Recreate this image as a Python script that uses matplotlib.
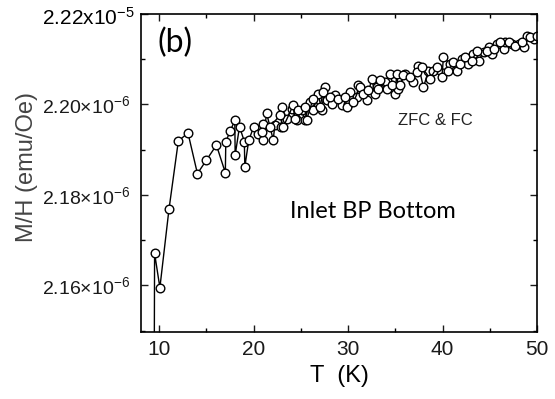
import matplotlib
matplotlib.use("Agg")
import matplotlib.pyplot as plt
from matplotlib.ticker import MultipleLocator

plt.rcParams['font.family'] = ['Liberation Sans', 'DejaVu Sans']
plt.rcParams['mathtext.fontset'] = 'custom'
plt.rcParams['mathtext.rm'] = 'Liberation Sans'
plt.rcParams['mathtext.default'] = 'regular'

# ZFC run: temperature (K) and M/H (x1e-6 emu/Oe)
T_zfc = [9.50, 9.54, 10.10, 11.06, 12.05, 13.07, 14.07, 15.02, 16.08, 17.02,
         17.07, 17.54, 18.02, 18.06, 18.52, 19.03, 19.08, 19.50, 20.03, 20.49,
         21.00, 21.04, 21.38, 22.08, 22.26, 22.95, 22.99, 23.50, 24.03, 24.56,
         25.08, 25.43, 25.96, 26.31, 26.84, 27.20, 27.55, 27.73, 28.26, 28.61,
         29.32, 30.02, 30.20, 30.91, 31.08, 31.97, 32.50, 32.85, 33.03, 33.91,
         34.44, 34.97, 35.15, 35.32, 36.03, 36.91, 37.44, 37.97, 38.50, 39.03,
         39.92, 40.08, 40.79, 41.50, 42.03, 42.73, 43.26, 43.79, 44.32, 44.85,
         45.21, 45.74, 46.44, 46.62, 47.33, 48.03, 48.56, 48.92, 49.62]
MH_zfc = [2.1400, 2.1671, 2.1595, 2.1768, 2.1919, 2.1937, 2.1847, 2.1877, 2.1910, 2.1849,
          2.1918, 2.1941, 2.1965, 2.1888, 2.1951, 2.1918, 2.1862, 2.1921, 2.1951, 2.1935,
          2.1957, 2.1922, 2.1981, 2.1922, 2.1954, 2.1950, 2.1994, 2.1968, 2.1991, 2.1965,
          2.1987, 2.1965, 2.2005, 2.1987, 2.2024, 2.1987, 2.2038, 2.2009, 2.2002, 2.2020,
          2.1998, 2.2002, 2.2027, 2.2016, 2.2042, 2.2009, 2.2057, 2.2024, 2.2038, 2.2049,
          2.2068, 2.2024, 2.2068, 2.2035, 2.2068, 2.2049, 2.2086, 2.2038, 2.2075, 2.2075,
          2.2060, 2.2104, 2.2090, 2.2075, 2.2101, 2.2090, 2.2112, 2.2097, 2.2115, 2.2126,
          2.2112, 2.2134, 2.2123, 2.2137, 2.2134, 2.2134, 2.2126, 2.2152, 2.2145]

# FC run
T_fc = [20.85, 21.73, 22.79, 23.14, 24.19, 24.37, 24.72, 25.43, 25.61, 26.31,
        27.02, 27.37, 28.08, 28.96, 29.67, 29.85, 30.55, 31.26, 31.61, 32.14,
        33.20, 33.38, 34.09, 34.62, 35.50, 35.85, 36.56, 37.27, 37.80, 38.68,
        39.39, 40.61, 41.14, 41.85, 42.38, 43.09, 43.62, 44.68, 45.38, 46.09,
        46.97, 47.68, 48.39, 49.27, 49.98]
MH_fc = [2.1939, 2.1950, 2.1976, 2.1950, 2.1998, 2.1968, 2.1987, 2.1994, 2.1966, 2.2013,
         2.1994, 2.2027, 2.2016, 2.2013, 2.2016, 2.1994, 2.2005, 2.2038, 2.2024, 2.2031,
         2.2035, 2.2053, 2.2035, 2.2042, 2.2042, 2.2064, 2.2060, 2.2071, 2.2082, 2.2057,
         2.2082, 2.2075, 2.2093, 2.2090, 2.2104, 2.2097, 2.2119, 2.2119, 2.2123, 2.2137,
         2.2137, 2.2130, 2.2137, 2.2148, 2.2152]

xticks = [10, 20, 30, 40, 50]
yticks = [2.16, 2.18, 2.20, 2.22]
ylabels = ['2.16\u00d710$^{-6}$', '2.18\u00d710$^{-6}$', '2.20\u00d710$^{-6}$', '']
top_label = '2.22x10$^{-5}$'

fig = plt.figure(figsize=(5.55, 3.99), dpi=100)
ax = fig.add_axes([0.254, 0.168, 0.714, 0.797])

style = dict(color='black', lw=1.0, ms=6.2, mfc='white', mec='black', mew=1.0)
ax.plot(T_zfc, MH_zfc, '-o', **style)
ax.plot(T_fc, MH_fc, '-o', **style)

ax.set_xlim(8.1, 50)
ax.set_ylim(2.1497, 2.2200)
ax.set_xticks(xticks)
ax.set_yticks(yticks)
ax.set_yticklabels(ylabels)
ax.xaxis.set_minor_locator(MultipleLocator(5))
ax.yaxis.set_minor_locator(MultipleLocator(0.01))

ax.tick_params(which='both', direction='in', top=True, right=True, width=1.0)
ax.tick_params(which='major', length=5)
ax.tick_params(which='minor', length=3)
ax.tick_params(axis='x', labelsize=15, pad=6, colors='#1a1a1a')
ax.tick_params(axis='y', labelsize=14, pad=8, colors='#1a1a1a')
for s in ax.spines.values():
    s.set_linewidth(1.2)

# top tick label, typed as in the original figure
fig.text(42 / 555, 1 - 18 / 399, top_label, fontsize=15,
         ha='left', va='center', color='black')

ax.set_xlabel('T  (K)', fontsize=17, labelpad=4)
ax.set_ylabel('M/H (emu/Oe)', fontsize=17, color='#444444')
ax.yaxis.set_label_coords(-0.26, 0.52)

ax.text(0.087, 0.91, '(b)', transform=ax.transAxes, fontsize=23, family='Lato',
        ha='center', va='center')
ax.text(0.585, 0.38, 'Inlet BP Bottom', transform=ax.transAxes, fontsize=17,
        family='Lato', ha='center', va='center')
ax.text(0.742, 0.665, 'ZFC & FC', transform=ax.transAxes, fontsize=12,
        ha='center', va='center', color='#222222')

fig.savefig('out.png', dpi=100)
